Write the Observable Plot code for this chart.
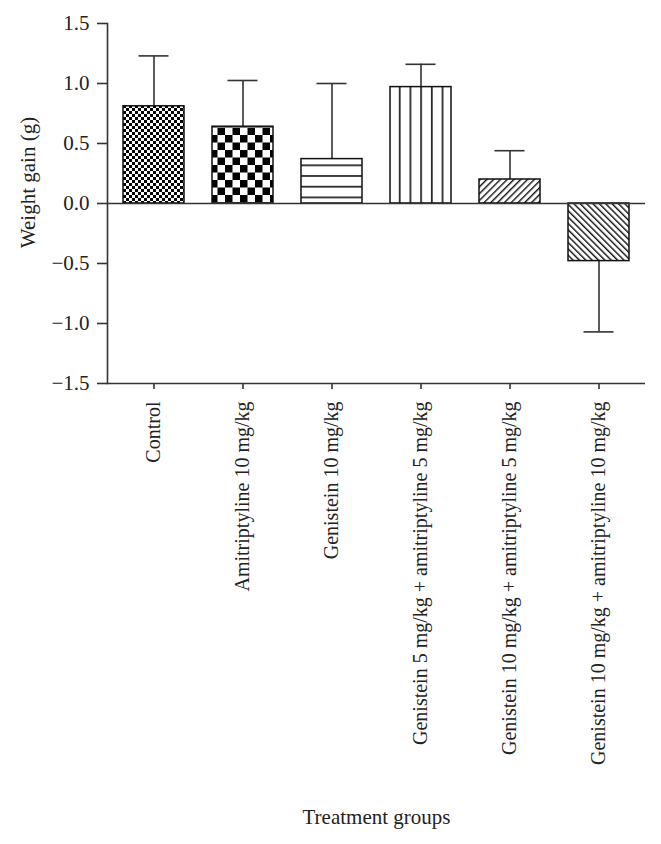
<!DOCTYPE html>
<html><head><meta charset="utf-8">
<script src="https://cdn.jsdelivr.net/npm/d3@7"></script>
<script src="https://cdn.jsdelivr.net/npm/@observablehq/plot@0.6"></script>
<style>body{margin:0;background:#fff}</style>
</head><body><div id="chart"></div>
<script>
const groups = [
  "Control",
  "Amitriptyline 10 mg/kg",
  "Genistein 10 mg/kg",
  "Genistein 5 mg/kg + amitriptyline 5 mg/kg",
  "Genistein 10 mg/kg + amitriptyline 5 mg/kg",
  "Genistein 10 mg/kg + amitriptyline 10 mg/kg"
];
const means = [0.81, 0.64, 0.37, 0.97, 0.20, -0.48];
const errors = [0.42, 0.385, 0.63, 0.19, 0.24, 0.59];
const patternIds = ["p-fine-check", "p-coarse-check", "p-hlines", "p-vlines", "p-diag-up", "p-diag-down"];
const yTicks = [-1.5, -1.0, -0.5, 0, 0.5, 1.0, 1.5];
const yLabel = "Weight gain (g)";
const xLabel = "Treatment groups";

const data = groups.map((g, i) => ({
  group: g,
  mean: means[i],
  tip: means[i] + Math.sign(means[i]) * errors[i],
  pattern: `url(#${patternIds[i]})`
}));

const font = "'Liberation Serif', 'DejaVu Serif', serif";

const chart = Plot.plot({
  width: 661,
  height: 844,
  marginLeft: 107,
  marginRight: 16,
  marginTop: 23,
  marginBottom: 461,
  style: {fontFamily: font, fontSize: "21px", color: "#222", background: "#fff"},
  x: {domain: groups, paddingInner: 0.32, paddingOuter: 0.16, label: null},
  y: {domain: [-1.5, 1.5], label: null},
  color: {type: "identity"},
  marks: [
    Plot.ruleX(data, {x: "group", y1: "mean", y2: "tip", stroke: "#333", strokeWidth: 1.6}),
    Plot.tickY(data, {x: "group", y: "tip", stroke: "#333", strokeWidth: 1.6, insetLeft: 15.5, insetRight: 15.5}),
    Plot.barY(data, {x: "group", y: "mean", fill: "pattern", stroke: "#111", strokeWidth: 1.5}),
    Plot.ruleY([0], {stroke: "#333", strokeWidth: 1.6}),
    Plot.ruleY([-1.5], {stroke: "#333", strokeWidth: 1.6}),
    Plot.frame({anchor: "left", stroke: "#333", strokeWidth: 1.6}),
    Plot.axisY({ticks: yTicks, tickFormat: d3.format(".1f"), tickSize: 10, tickPadding: 8, label: null, stroke: "#333", strokeWidth: 1.6}),
    Plot.axisX({tickSize: 6, tickPadding: 12, tickRotate: -90, label: null, fontSize: 20, stroke: "#333", strokeWidth: 1.6}),
    Plot.text([yLabel], {frameAnchor: "left", textAnchor: "middle", dx: -79, dy: -21, rotate: -90, fontSize: 21}),
    Plot.text([xLabel], {frameAnchor: "bottom", dy: 440, fontSize: 21})
  ]
});

const svg = d3.select(chart);
const defs = svg.insert("defs", ":first-child");
// fine checkerboard
let p = defs.append("pattern").attr("id", "p-fine-check").attr("patternUnits", "userSpaceOnUse").attr("width", 6).attr("height", 6);
p.append("rect").attr("width", 6).attr("height", 6).attr("fill", "#fff");
p.append("rect").attr("width", 3).attr("height", 3).attr("fill", "#000");
p.append("rect").attr("x", 3).attr("y", 3).attr("width", 3).attr("height", 3).attr("fill", "#000");
// coarse checkerboard
p = defs.append("pattern").attr("id", "p-coarse-check").attr("patternUnits", "userSpaceOnUse").attr("width", 15).attr("height", 15);
p.append("rect").attr("width", 15).attr("height", 15).attr("fill", "#fff");
p.append("rect").attr("width", 7.5).attr("height", 7.5).attr("fill", "#000");
p.append("rect").attr("x", 7.5).attr("y", 7.5).attr("width", 7.5).attr("height", 7.5).attr("fill", "#000");
// horizontal lines
p = defs.append("pattern").attr("id", "p-hlines").attr("patternUnits", "userSpaceOnUse").attr("width", 10).attr("height", 10.7);
p.append("rect").attr("width", 10).attr("height", 10.7).attr("fill", "#fff");
p.append("rect").attr("y", 4).attr("width", 10).attr("height", 1.6).attr("fill", "#111");
// vertical lines
p = defs.append("pattern").attr("id", "p-vlines").attr("patternUnits", "userSpaceOnUse").attr("width", 10.7).attr("height", 10);
p.append("rect").attr("width", 10.7).attr("height", 10).attr("fill", "#fff");
p.append("rect").attr("x", 3).attr("width", 1.6).attr("height", 10).attr("fill", "#111");
// diagonal /
p = defs.append("pattern").attr("id", "p-diag-up").attr("patternUnits", "userSpaceOnUse").attr("width", 4.8).attr("height", 10).attr("patternTransform", "rotate(45)");
p.append("rect").attr("width", 4.8).attr("height", 10).attr("fill", "#fff");
p.append("rect").attr("width", 1.4).attr("height", 10).attr("fill", "#111");
// diagonal \
p = defs.append("pattern").attr("id", "p-diag-down").attr("patternUnits", "userSpaceOnUse").attr("width", 4.5).attr("height", 10).attr("patternTransform", "rotate(-45)");
p.append("rect").attr("width", 4.5).attr("height", 10).attr("fill", "#fff");
p.append("rect").attr("width", 1.4).attr("height", 10).attr("fill", "#111");

document.getElementById("chart").appendChild(chart);
</script>
</body></html>
